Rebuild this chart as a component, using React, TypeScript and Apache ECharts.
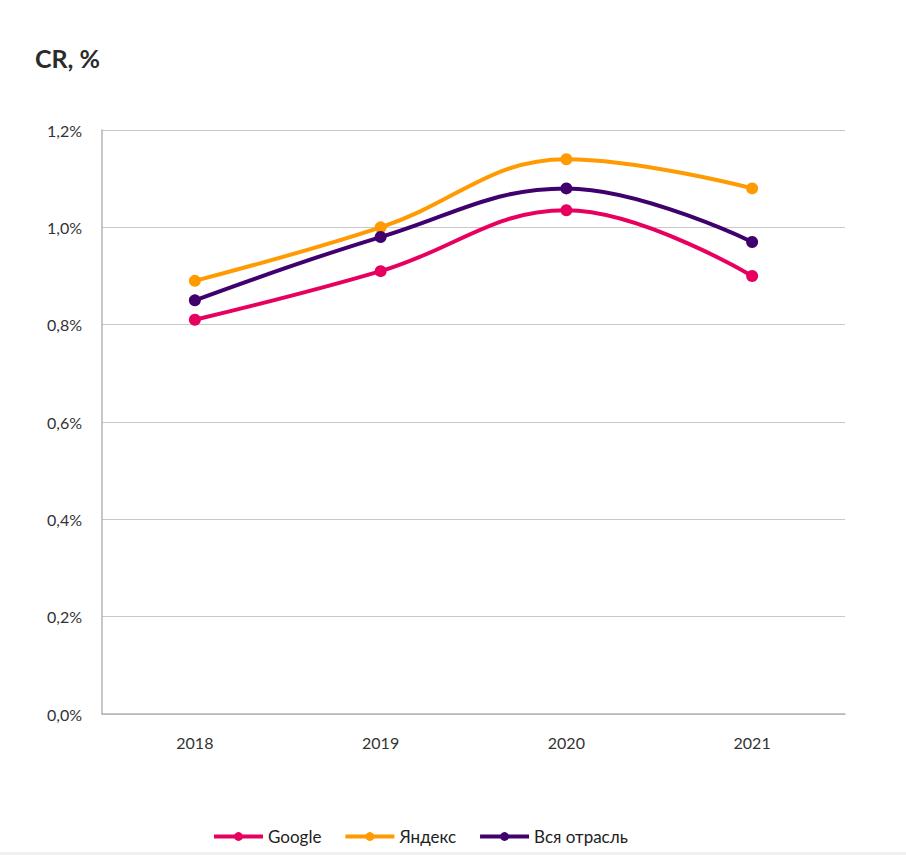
import React, { useEffect, useRef } from "react";
import * as echarts from "echarts";

const categories = ["2018", "2019", "2020", "2021"];
const google = [0.81, 0.91, 1.035, 0.9];
const yandex = [0.89, 1.0, 1.14, 1.08];
const industry = [0.85, 0.98, 1.08, 0.97];
const seriesNames = ["Google", "Яндекс", "Вся отрасль"];
const colors = ["#E8005F", "#FF9A00", "#40006E"];

export default function App() {
  const ref = useRef<HTMLDivElement>(null);
  useEffect(() => {
    document.body.style.margin = "0";
    const chart = echarts.init(ref.current!, null, { renderer: "svg" });
    const mk = (name: string, data: number[], color: string) => ({
      name,
      type: "line",
      data,
      smooth: 0.4,
      symbol: "circle",
      symbolSize: 12,
      itemStyle: { color },
      lineStyle: { color, width: 4 },
    });
    chart.setOption({
      animation: false,
      textStyle: { fontFamily: "Lato, 'Noto Sans', sans-serif" },
      title: {
        text: "CR, %",
        left: 30,
        top: 40,
        textStyle: { fontSize: 25, fontWeight: "bold", color: "#2b2b2b", fontFamily: "Lato, sans-serif" },
      },
      grid: { left: 102, right: 61, top: 130, bottom: 141 },
      legend: {
        bottom: 5,
        left: 207,
        itemWidth: 49,
        itemHeight: 11,
        itemGap: 22,
        lineStyle: { width: 4 },
        textStyle: { fontSize: 17, color: "#222", fontFamily: "Lato, sans-serif" },
        data: seriesNames,
      },
      xAxis: {
        type: "category",
        data: categories,
        boundaryGap: true,
        axisLine: { show: true, lineStyle: { color: "#b5b5b5", width: 1.5 } },
        axisTick: { show: false },
        axisLabel: { fontSize: 16, color: "#333", margin: 20 },
      },
      yAxis: {
        type: "value",
        min: 0,
        max: 1.2,
        interval: 0.2,
        axisLine: { show: true, lineStyle: { color: "#b5b5b5", width: 1.5 } },
        axisTick: { show: false },
        splitLine: { lineStyle: { color: "#c8c8c8", width: 1.2 } },
        axisLabel: {
          fontSize: 16,
          color: "#333",
          margin: 20,
          formatter: (v: number) => v.toFixed(1).replace(".", ",") + "%",
        },
      },
      graphic: [
        { type: "rect", left: 0, bottom: 0, shape: { width: 906, height: 3 }, style: { fill: "#f0f0f0" } },
      ],
      series: [
        mk(seriesNames[0], google, colors[0]),
        mk(seriesNames[1], yandex, colors[1]),
        mk(seriesNames[2], industry, colors[2]),
      ],
    });
    return () => chart.dispose();
  }, []);
  return <div ref={ref} style={{ width: 906, height: 855 }} />;
}
